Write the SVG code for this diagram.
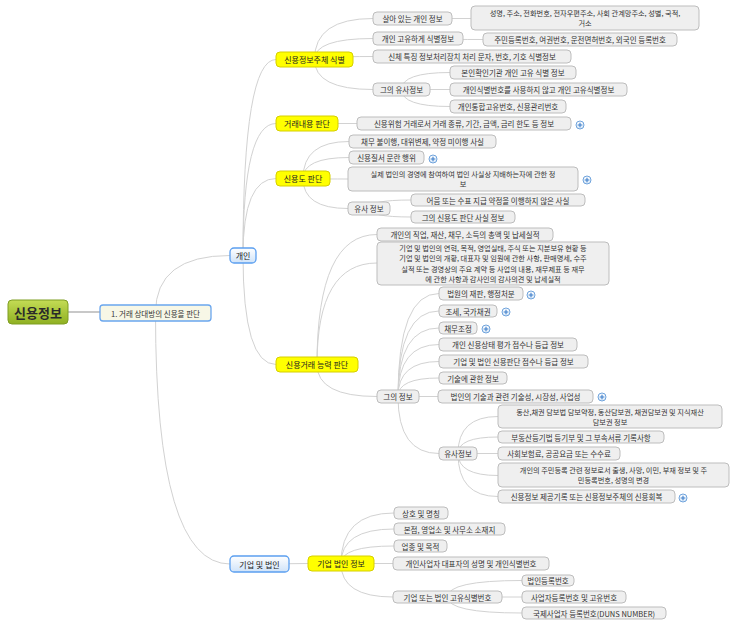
<svg xmlns="http://www.w3.org/2000/svg" width="737" height="632" viewBox="0 0 737 632">
<style>
text{font-family:"Noto Sans CJK KR","Noto Sans",sans-serif;fill:#333;text-anchor:middle;dominant-baseline:central}
.g rect{fill:#efefef;stroke:#bdbdbd;stroke-width:1}
.g text{font-size:7.5px}
.g text.m{font-size:7.2px}
.y rect{fill:#ffff00;stroke:#d6cf00;stroke-width:1}
.y text{font-size:8px;fill:#222}
.b rect{fill:url(#bg);stroke:#5b9ff0;stroke-width:1.3}
.b text{font-size:8px;fill:#222}
#conn path{fill:none;stroke:#d2d2d2;stroke-width:1}
.plus circle{fill:url(#pg);stroke:#6fa3dc;stroke-width:1}
.plus path{stroke:#3f7fca;stroke-width:1.1;fill:none}
</style>
<defs>
<linearGradient id="bg" x1="0" y1="0" x2="0" y2="1"><stop offset="0" stop-color="#ffffff"/><stop offset="1" stop-color="#cfe3f9"/></linearGradient>
<linearGradient id="rg" x1="0" y1="0" x2="0" y2="1"><stop offset="0" stop-color="#c4dc55"/><stop offset="1" stop-color="#8fb022"/></linearGradient>
<linearGradient id="pg" x1="0" y1="0" x2="0" y2="1"><stop offset="0" stop-color="#ffffff"/><stop offset="1" stop-color="#d8e8f8"/></linearGradient>
<g id="plusicon" class="plus"><circle cx="0" cy="0" r="4"/><path d="M-2.3,0H2.3M0,-2.3V2.3"/></g>
</defs>
<rect width="737" height="632" fill="#ffffff"/>
<g id="conn">
<path d="M68,312 L100,312" style="stroke-width:2;stroke:#c8c8c8"/>
<path d="M155.5,313 Q155.5,255.5 230,255.5"/>
<path d="M155.5,313 Q155.5,564 230,564"/>
<path d="M243,255.5 Q243,59.5 276,59.5"/>
<path d="M243,255.5 Q243,123.5 276,123.5"/>
<path d="M243,255.5 Q243,178.5 276,178.5"/>
<path d="M243,255.5 Q243,364.5 276,364.5"/>
<path d="M314.5,59.5 Q314.5,18.5 373,18.5"/>
<path d="M314.5,59.5 Q314.5,38.5 373,38.5"/>
<path d="M314.5,59.5 Q314.5,56.5 373,56.5"/>
<path d="M314.5,59.5 Q314.5,89.5 373,89.5"/>
<path d="M412,18.5 L471,18.5"/>
<path d="M418,38.5 Q418,39.5 483,39.5"/>
<path d="M401.5,89.5 Q401.5,72.5 450,72.5"/>
<path d="M401.5,89.5 L450,89.5"/>
<path d="M401.5,89.5 Q401.5,106.5 450,106.5"/>
<path d="M307,123.5 L357,123.5"/>
<path d="M303,178.5 Q303,141.5 349,141.5"/>
<path d="M303,178.5 Q303,157.5 349,157.5"/>
<path d="M303,178.5 Q303,179 348,179"/>
<path d="M303,178.5 Q303,208.5 348,208.5"/>
<path d="M369,208.5 Q369,200 411,200"/>
<path d="M369,208.5 Q369,217 411,217"/>
<path d="M317,364.5 Q317,234.5 377,234.5"/>
<path d="M317,364.5 Q317,263 377,263"/>
<path d="M317,364.5 Q317,396.5 377,396.5"/>
<path d="M398,396.5 Q398,293.5 439,293.5"/>
<path d="M398,396.5 Q398,311 439,311"/>
<path d="M398,396.5 Q398,328 439,328"/>
<path d="M398,396.5 Q398,344.5 439,344.5"/>
<path d="M398,396.5 Q398,361.5 439,361.5"/>
<path d="M398,396.5 Q398,378 439,378"/>
<path d="M398,396.5 L438,396.5"/>
<path d="M398,396.5 Q398,453.5 439,453.5"/>
<path d="M458,453.5 Q458,416.5 498,416.5"/>
<path d="M458,453.5 Q458,437 498,437"/>
<path d="M458,453.5 L498,453.5"/>
<path d="M458,453.5 Q458,475.5 498,475.5"/>
<path d="M458,453.5 Q458,496.5 498,496.5"/>
<path d="M259.5,564 L308,563.5"/>
<path d="M341,563.5 Q341,513 394,513"/>
<path d="M341,563.5 Q341,529 394,529"/>
<path d="M341,563.5 Q341,546 394,546"/>
<path d="M341,563.5 L393,563.5"/>
<path d="M341,563.5 Q341,597 393,597"/>
<path d="M447.5,597 Q447.5,580.5 522,580.5"/>
<path d="M447.5,597 L522,597"/>
<path d="M447.5,597 Q447.5,613 522,613"/>
</g>
<g id="root"><rect x="8" y="300" width="60" height="24" rx="4" fill="url(#rg)" stroke="#7f9e22"/><text x="38" y="312" style="font-size:13px;font-weight:bold;fill:#2a2a2a">신용정보</text></g>
<g id="n1"><rect x="100" y="305" width="111" height="16" rx="3" fill="#f7f7e6" stroke="#6aa6ee" stroke-width="1.3"/><text x="155.5" y="313" style="font-size:7.5px">1. 거래 상대방의 신용을 판단</text></g>
<g id="gaein" class="b"><rect x="230" y="248" width="26" height="15" rx="4"/><text x="243" y="255.5">개인</text></g>
<g id="gieop" class="b"><rect x="230" y="556" width="59" height="16" rx="4"/><text x="259.5" y="564">기업 및 법인</text></g>
<g id="y1" class="y"><rect x="276" y="52" width="77" height="15" rx="4"/><text x="314.5" y="59.5">신용정보주체 식별</text></g>
<g id="y2" class="y"><rect x="276" y="116" width="62" height="15" rx="4"/><text x="307" y="123.5">거래내용 판단</text></g>
<g id="y3" class="y"><rect x="276" y="171" width="54" height="15" rx="4"/><text x="303" y="178.5">신용도 판단</text></g>
<g id="y4" class="y"><rect x="276" y="357" width="82" height="15" rx="4"/><text x="317" y="364.5">신용거래 능력 판단</text></g>
<g id="y5" class="y"><rect x="308" y="556" width="66" height="15" rx="4"/><text x="341" y="563.5">기업 법인 정보</text></g>
<g id="g1" class="g"><rect x="373" y="12" width="79" height="13" rx="4"/><text x="412.5" y="18.5">살아 있는 개인 정보</text></g>
<g id="g1a" class="g"><rect x="471" y="6" width="228" height="24" rx="4"/><text class="m" x="585" y="12.8">성명, 주소, 전화번호, 전자우편주소, 사회 관계망주소, 성별, 국적,</text><text class="m" x="585" y="23.2">거소</text></g>
<g id="g2" class="g"><rect x="373" y="32" width="90" height="13" rx="4"/><text x="418" y="38.5">개인 고유하게 식별정보</text></g>
<g id="g2a" class="g"><rect x="483" y="33" width="194" height="13" rx="4"/><text x="580" y="39.5">주민등록번호, 여권번호, 운전면허번호, 외국인 등록번호</text></g>
<g id="g3" class="g"><rect x="373" y="50" width="198" height="13" rx="4"/><text x="472" y="56.5">신체 특징 정보처리장치 처리 문자, 번호, 기호 식별정보</text></g>
<g id="g4" class="g"><rect x="373" y="83" width="57" height="13" rx="4"/><text x="401.5" y="89.5">그의 유사정보</text></g>
<g id="g4a" class="g"><rect x="450" y="66" width="126" height="13" rx="4"/><text x="513" y="72.5">본인확인기관 개인 고유 식별 정보</text></g>
<g id="g4b" class="g"><rect x="450" y="83" width="177" height="13" rx="4"/><text x="538.5" y="89.5">개인식별번호를 사용하지 않고 개인 고유식별정보</text></g>
<g id="g4c" class="g"><rect x="450" y="100" width="116" height="13" rx="4"/><text x="508" y="106.5">개인통합고유번호, 신용관리번호</text></g>
<g id="g5" class="g"><rect x="357" y="117" width="214" height="13" rx="4"/><text x="464" y="123.5">신용위험 거래로서 거래 종류, 기간, 금액, 금리 한도 등 정보</text></g>
<use href="#plusicon" x="580" y="125"/>
<g id="g6" class="g"><rect x="349" y="135" width="147" height="13" rx="4"/><text x="422.5" y="141.5">채무 불이행, 대위변제, 약정 미이행 사실</text></g>
<g id="g7" class="g"><rect x="349" y="151" width="75" height="13" rx="4"/><text x="386.5" y="157.5">신용질서 문란 행위</text></g>
<use href="#plusicon" x="433" y="159"/>
<g id="g8" class="g"><rect x="348" y="167" width="230" height="24" rx="4"/><text class="m" x="463" y="173.8">실제 법인의 경영에 참여하여 법인 사실상 지배하는자에 관한 정</text><text class="m" x="463" y="184.2">보</text></g>
<use href="#plusicon" x="587" y="180"/>
<g id="g9" class="g"><rect x="348" y="202" width="42" height="13" rx="4"/><text x="369" y="208.5">유사 정보</text></g>
<g id="g9a" class="g"><rect x="411" y="194" width="174" height="12" rx="4"/><text x="498" y="200">어음 또는 수표 지급 약정을 이행하지 않은 사실</text></g>
<g id="g9b" class="g"><rect x="411" y="211" width="104" height="12" rx="4"/><text x="463" y="217">그의 신용도 판단 사실 정보</text></g>
<g id="g10" class="g"><rect x="377" y="228" width="176" height="13" rx="4"/><text x="465" y="234.5">개인의 직업, 재산, 채무, 소득의 총액 및 납세실적</text></g>
<g id="g11" class="g"><rect x="377" y="242" width="232" height="43" rx="4"/><text class="m" x="493" y="248">기업 및 법인의 연혁, 목적, 영업실태, 주식 또는 지분보유 현황 등</text><text class="m" x="493" y="258.3">기업 및 법인의 개황, 대표자 및 임원에 관한 사항, 판매명세, 수주</text><text class="m" x="493" y="268.6">실적 또는 경영상의 주요 계약 등 사업의 내용, 재무제표 등 재무</text><text class="m" x="493" y="278.9">에 관한 사항과 감사인의 감사의견 및 납세실적</text></g>
<g id="g12" class="g"><rect x="377" y="390" width="42" height="13" rx="4"/><text x="398" y="396.5">그의 정보</text></g>
<g id="g12a" class="g"><rect x="439" y="287" width="84" height="13" rx="4"/><text x="481" y="293.5">법원의 재판, 행정처분</text></g>
<use href="#plusicon" x="531" y="295"/>
<g id="g12b" class="g"><rect x="439" y="305" width="58" height="12" rx="4"/><text x="468" y="311">조세, 국가채권</text></g>
<use href="#plusicon" x="506" y="312"/>
<g id="g12c" class="g"><rect x="439" y="322" width="38" height="12" rx="4"/><text x="458" y="328">채무조정</text></g>
<use href="#plusicon" x="486" y="329"/>
<g id="g12d" class="g"><rect x="439" y="338" width="138" height="13" rx="4"/><text x="508" y="344.5">개인 신용상태 평가 점수나 등급 정보</text></g>
<g id="g12e" class="g"><rect x="439" y="355" width="149" height="13" rx="4"/><text x="513.5" y="361.5">기업 및 법인 신용판단 점수나 등급 정보</text></g>
<g id="g12f" class="g"><rect x="439" y="372" width="68" height="12" rx="4"/><text x="473" y="378">기술에 관한 정보</text></g>
<g id="g12g" class="g"><rect x="438" y="390" width="155" height="13" rx="4"/><text x="515.5" y="396.5">법인의 기술과 관련 기술성, 시장성, 사업성</text></g>
<use href="#plusicon" x="602" y="397"/>
<g id="g12h" class="g"><rect x="439" y="447" width="38" height="13" rx="4"/><text x="458" y="453.5">유사정보</text></g>
<g id="h1" class="g"><rect x="498" y="405" width="224" height="23" rx="4"/><text class="m" x="610" y="411.5">동산,채권 담보법 담보약정, 동산담보권, 채권담보권 및 지식재산</text><text class="m" x="610" y="421.8">담보권 정보</text></g>
<g id="h2" class="g"><rect x="498" y="431" width="166" height="12" rx="4"/><text x="581" y="437">부동산등기법 등기부 및 그 부속서류 기록사항</text></g>
<g id="h3" class="g"><rect x="498" y="447" width="122" height="13" rx="4"/><text x="559" y="453.5">사회보험료, 공공요금 또는 수수료</text></g>
<g id="h4" class="g"><rect x="498" y="463" width="231" height="24" rx="4"/><text class="m" x="613.5" y="470">개인의 주민등록 관련 정보로서 출생, 사망, 이민, 부재 정보 및 주</text><text class="m" x="613.5" y="480.3">민등록번호, 성명의 변경</text></g>
<g id="h5" class="g"><rect x="498" y="490" width="177" height="13" rx="4"/><text x="586.5" y="496.5">신용정보 제공기록 또는 신용정보주체의 신용회복</text></g>
<use href="#plusicon" x="683" y="498"/>
<g id="b1" class="g"><rect x="394" y="507" width="54" height="12" rx="4"/><text x="421" y="513">상호 및 명칭</text></g>
<g id="b2" class="g"><rect x="394" y="523" width="111" height="12" rx="4"/><text x="449.5" y="529">본점, 영업소 및 사무소 소재지</text></g>
<g id="b3" class="g"><rect x="394" y="540" width="53" height="12" rx="4"/><text x="420.5" y="546">업종 및 목적</text></g>
<g id="b4" class="g"><rect x="393" y="557" width="156" height="13" rx="4"/><text x="471" y="563.5">개인사업자 대표자의 성명 및 개인식별번호</text></g>
<g id="b5" class="g"><rect x="393" y="591" width="109" height="12" rx="4"/><text x="447.5" y="597">기업 또는 법인 고유식별번호</text></g>
<g id="b5a" class="g"><rect x="522" y="575" width="52" height="11" rx="4"/><text x="548" y="580.5">법인등록번호</text></g>
<g id="b5b" class="g"><rect x="522" y="591" width="104" height="12" rx="4"/><text x="574" y="597">사업자등록번호 및 고유번호</text></g>
<g id="b5c" class="g"><rect x="522" y="607" width="144" height="12" rx="4"/><text x="594" y="613">국제사업자 등록번호(DUNS NUMBER)</text></g>
</svg>
